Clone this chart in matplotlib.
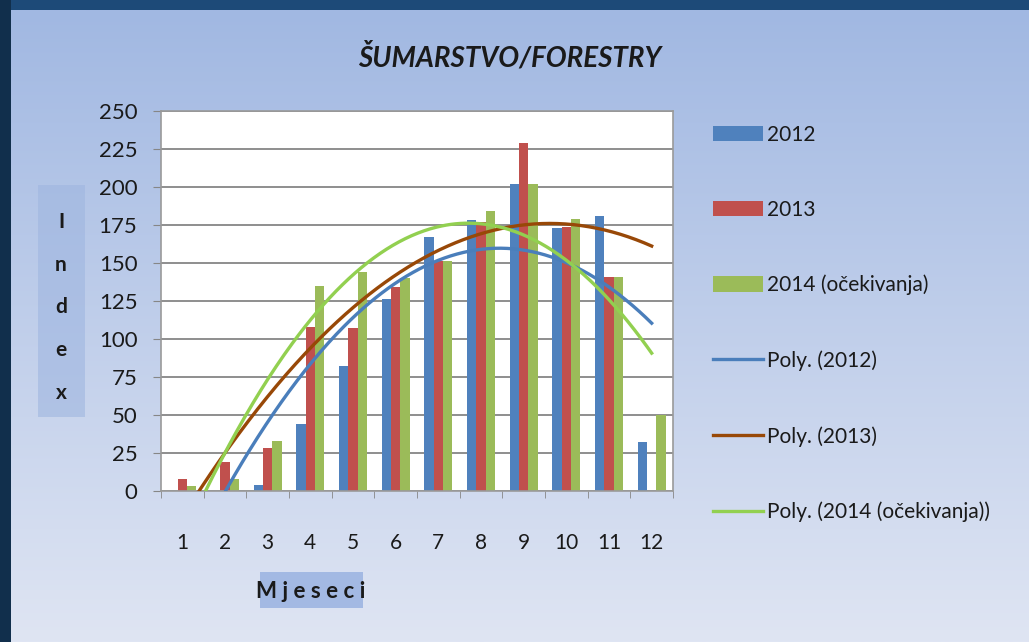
import numpy as np
import matplotlib
matplotlib.use("Agg")
import matplotlib.pyplot as plt
from matplotlib.patches import Rectangle, Patch
from matplotlib.lines import Line2D

plt.rcParams['font.family'] = ['Lato', 'DejaVu Sans']

# data (nan = no bar in the source)
months = [1, 2, 3, 4, 5, 6, 7, 8, 9, 10, 11, 12]
idx_2012 = [0, 0, 4, 44, 82, 126, 167, 178, 202, 173, 181, 32]
idx_2013 = [8, 19, 28, 108, 107, 134, 151, 177, 229, 174, 141, np.nan]
idx_2014 = [3, 8, 33, 135, 144, 140, 151, 184, 202, 179, 141, 50]
series_names = ['2012', '2013', '2014 (očekivanja)']
trend_names = ['Poly. (2012)', 'Poly. (2013)', 'Poly. (2014 (očekivanja))']
y_ticks = [0, 25, 50, 75, 100, 125, 150, 175, 200, 225, 250]

bar_colors = ['#4f81bd', '#c0504d', '#9bbb59']
trend_colors = ['#4a7ebb', '#984807', '#92d050']

W, H = 1029, 642


def fx(x):
    return x / W


def fy(y):
    return 1 - y / H


fig = plt.figure(figsize=(W / 100, H / 100), dpi=100)
fig.patch.set_facecolor('#1d4a78')

# dark left strip
fig.patches.append(Rectangle((0, 0), fx(11), 1, transform=fig.transFigure,
                             facecolor='#112f4c', edgecolor='none', zorder=0))

# light gradient panel
bg = fig.add_axes([fx(11), 0, 1 - fx(11), fy(10)], zorder=0)
grad = np.linspace(0, 1, 256).reshape(-1, 1)
top = np.array([0xa1, 0xb8, 0xe2]) / 255
bot = np.array([0xdf, 0xe5, 0xf3]) / 255
img = top[None, None, :] * (1 - grad[:, :, None]) + bot[None, None, :] * grad[:, :, None]
bg.imshow(img, aspect='auto', extent=[0, 1, 0, 1])
bg.axis('off')

# main plot
ax = fig.add_axes([fx(161), fy(491), fx(673) - fx(161), fy(111) - fy(491)], zorder=2)
ax.set_facecolor('white')

x = np.array(months, dtype=float)
w = 0.22
all_series = [np.array(s, dtype=float) for s in (idx_2012, idx_2013, idx_2014)]
for i, vals in enumerate(all_series):
    ax.bar(x + (i - 1) * w, np.nan_to_num(vals), width=w, color=bar_colors[i], zorder=2)

# 2nd order polynomial trend lines, fitted on the months that have a value
xs = np.linspace(1, 12, 300)
for i, vals in enumerate(all_series):
    ok = ~np.isnan(vals)
    coef = np.polyfit(x[ok], vals[ok], 2)
    ax.plot(xs, np.polyval(coef, xs), color=trend_colors[i], lw=2.4, zorder=3)

ax.set_xlim(0.5, 12.5)
ax.set_ylim(0, 250)
ax.set_yticks(y_ticks)
ax.set_yticklabels([str(t) for t in y_ticks])
ax.yaxis.grid(True, color='#868686', lw=1.3, zorder=1)
ax.set_axisbelow(True)

ax.set_xticks(months)
ax.set_xticklabels([str(m) for m in months])
ax.set_xticks(np.arange(0.5, 13, 1), minor=True)
ax.tick_params(axis='x', which='major', length=0, pad=30, labelsize=15, labelcolor='#1a1a1a')
ax.tick_params(axis='x', which='minor', length=5, color='#868686', direction='out')
ax.tick_params(axis='y', length=6, pad=11, color='#868686', labelsize=16, labelcolor='#1a1a1a')
for s in ax.spines.values():
    s.set_color('#9a9a9a')
    s.set_linewidth(1.2)

# title
fig.text(fx(510), fy(57), 'ŠUMARSTVO/FORESTRY', ha='center', va='center',
         fontsize=20, fontweight='bold', fontstyle='italic', color='#1a1a1a')

# y label box with stacked letters
fig.patches.append(Rectangle((fx(38), fy(417)), fx(85) - fx(38), fy(185) - fy(417),
                             transform=fig.transFigure, facecolor='#9fb6e0',
                             edgecolor='none', alpha=0.6, zorder=1))
for letter, yy in zip('Index', [222, 265, 307, 350, 393]):
    fig.text(fx(61), fy(yy), letter, ha='center', va='center', fontsize=15,
             fontweight='bold', color='#1a1a1a', zorder=3)

# x label box
fig.patches.append(Rectangle((fx(260), fy(608)), fx(363) - fx(260), fy(572) - fy(608),
                             transform=fig.transFigure, facecolor='#a3b9e3',
                             edgecolor='none', zorder=1))
fig.text(fx(311), fy(592), 'M j e s e c i', ha='center', va='center', fontsize=16,
         fontweight='bold', color='#1a1a1a', zorder=3)

# legend
handles = [Patch(facecolor=c, edgecolor='none') for c in bar_colors]
handles += [Line2D([0], [0], color=c, lw=2.4) for c in trend_colors]
fig.legend(handles, series_names + trend_names, loc='upper left',
           bbox_to_anchor=(fx(694), fy(106)), frameon=False, fontsize=15,
           handlelength=2.4, handleheight=0.8, handletextpad=0.2,
           labelspacing=2.64, labelcolor='#1a1a1a')

fig.savefig('out.png', dpi=100, facecolor=fig.get_facecolor())
